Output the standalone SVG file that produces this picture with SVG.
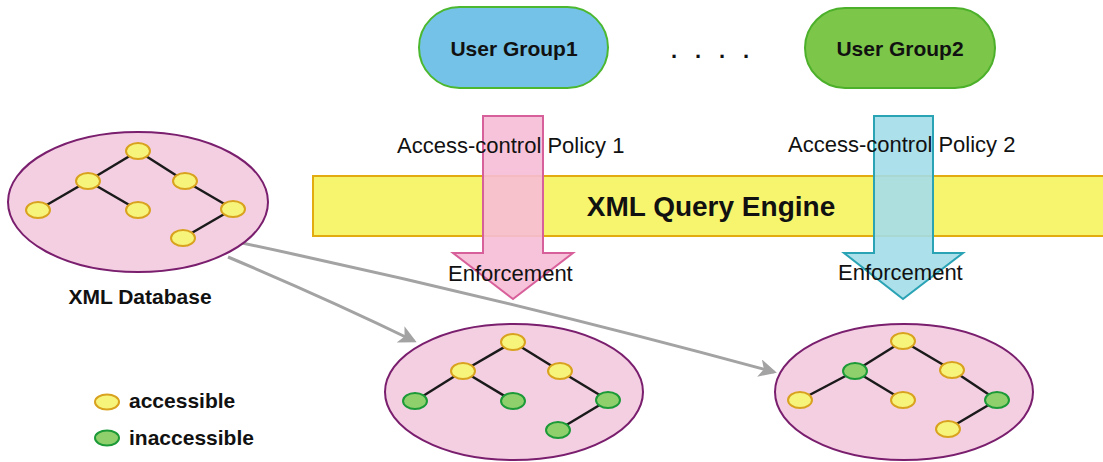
<svg xmlns="http://www.w3.org/2000/svg" width="1103" height="462" viewBox="0 0 1103 462">
  <style>
    .bold { font-family: "Liberation Sans", Arial, sans-serif; font-weight: bold; fill: #111; }
    .reg { font-family: "Liberation Sans", Arial, sans-serif; fill: #111; }
    .db { fill: #f4cfe2; stroke: #7a1e6e; stroke-width: 2; }
    .edge { stroke: #1a1a1a; stroke-width: 2.5; }
    .acc { fill: #f7f47c; stroke: #d9a21e; stroke-width: 2; }
    .inacc { fill: #8fd06c; stroke: #1c9a38; stroke-width: 2; }
    .link { fill: none; stroke: #a3a3a3; stroke-width: 3; }
  </style>
  <defs>
    <marker id="gray-head" viewBox="0 0 12 12" refX="10" refY="6" markerWidth="6" markerHeight="6" orient="auto" markerUnits="strokeWidth">
      <path d="M0,0 L12,6 L0,12 L3,6 Z" fill="#a3a3a3"/>
    </marker>
  </defs>

  <rect width="1103" height="462" fill="#ffffff"/>

  <!-- Query engine band -->
  <g id="engine">
    <rect x="313" y="176" width="792" height="60" fill="#f7f56e" stroke="#e2ac10" stroke-width="2"/>
    <text class="bold" x="711" y="216" font-size="28" text-anchor="middle">XML Query Engine</text>
  </g>

  <!-- User groups -->
  <g id="group1">
    <rect x="419" y="7" width="189" height="81" rx="40.5" fill="#74c2e8" stroke="#4cb830" stroke-width="2"/>
    <text class="bold" x="514" y="56" font-size="21" text-anchor="middle">User Group1</text>
  </g>
  <g id="ellipsis">
    <text class="bold" font-size="22" x="671 695 719 743" y="58">....</text>
  </g>
  <g id="group2">
    <rect x="805" y="8" width="190" height="80" rx="40" fill="#7cc64a" stroke="#4cb02a" stroke-width="2"/>
    <text class="bold" x="900" y="56" font-size="21" text-anchor="middle">User Group2</text>
  </g>

  <!-- Policy enforcement arrows -->
  <g id="policy1">
    <path d="M483,116 L543,116 L543,253 L573,253 L513,299 L453,253 L483,253 Z" fill="#f6bcd6" fill-opacity="0.9" stroke="#d8609a" stroke-width="2"/>
    <text class="reg" x="397" y="153" font-size="22">Access-control Policy 1</text>
    <text class="reg" x="448" y="281" font-size="22">Enforcement</text>
  </g>
  <g id="policy2">
    <path d="M874,116 L933,116 L933,253 L963,253 L903,299 L844,253 L874,253 Z" fill="#a3dde9" fill-opacity="0.9" stroke="#2aa3b5" stroke-width="2"/>
    <text class="reg" x="788" y="152" font-size="22">Access-control Policy 2</text>
    <text class="reg" x="838" y="280" font-size="22">Enforcement</text>
  </g>

  <!-- Connectors from the database to the filtered views -->
  <g id="connectors">
    <path class="link" d="M242,243 Q510,300 774,372" marker-end="url(#gray-head)"/>
    <path class="link" d="M228,257 Q330,300 414,341" marker-end="url(#gray-head)"/>
  </g>

  <!-- Source database -->
  <g id="xml-database">
    <ellipse class="db" cx="138" cy="202" rx="130" ry="70"/>
    <line class="edge" x1="138" y1="151" x2="88" y2="181"/>
    <line class="edge" x1="138" y1="151" x2="185" y2="181"/>
    <line class="edge" x1="88" y1="181" x2="38" y2="210"/>
    <line class="edge" x1="88" y1="181" x2="138" y2="210"/>
    <line class="edge" x1="185" y1="181" x2="233" y2="209"/>
    <line class="edge" x1="233" y1="209" x2="183" y2="238"/>
    <ellipse class="acc" cx="138" cy="151" rx="12" ry="8"/>
    <ellipse class="acc" cx="88" cy="181" rx="12" ry="8"/>
    <ellipse class="acc" cx="185" cy="181" rx="12" ry="8"/>
    <ellipse class="acc" cx="38" cy="210" rx="12" ry="8"/>
    <ellipse class="acc" cx="138" cy="210" rx="12" ry="8"/>
    <ellipse class="acc" cx="233" cy="209" rx="12" ry="8"/>
    <ellipse class="acc" cx="183" cy="238" rx="12" ry="8"/>
    <text class="bold" x="140" y="304" font-size="21" text-anchor="middle">XML Database</text>
  </g>

  <!-- View for user group 1 -->
  <g id="view1">
    <ellipse class="db" cx="514" cy="392" rx="129" ry="68"/>
    <line class="edge" x1="513" y1="342" x2="463" y2="371"/>
    <line class="edge" x1="513" y1="342" x2="560" y2="371"/>
    <line class="edge" x1="463" y1="371" x2="415" y2="401"/>
    <line class="edge" x1="463" y1="371" x2="513" y2="401"/>
    <line class="edge" x1="560" y1="371" x2="608" y2="400"/>
    <line class="edge" x1="608" y1="400" x2="558" y2="430"/>
    <ellipse class="acc" cx="513" cy="342" rx="12" ry="8"/>
    <ellipse class="acc" cx="463" cy="371" rx="12" ry="8"/>
    <ellipse class="acc" cx="560" cy="371" rx="12" ry="8"/>
    <ellipse class="inacc" cx="415" cy="401" rx="12" ry="8"/>
    <ellipse class="inacc" cx="513" cy="401" rx="12" ry="8"/>
    <ellipse class="inacc" cx="608" cy="400" rx="12" ry="8"/>
    <ellipse class="inacc" cx="558" cy="430" rx="12" ry="8"/>
  </g>

  <!-- View for user group 2 -->
  <g id="view2">
    <ellipse class="db" cx="904" cy="392" rx="129" ry="68"/>
    <line class="edge" x1="903" y1="341" x2="855" y2="371"/>
    <line class="edge" x1="903" y1="341" x2="952" y2="370"/>
    <line class="edge" x1="855" y1="371" x2="800" y2="400"/>
    <line class="edge" x1="855" y1="371" x2="903" y2="400"/>
    <line class="edge" x1="952" y1="370" x2="997" y2="400"/>
    <line class="edge" x1="997" y1="400" x2="948" y2="429"/>
    <ellipse class="acc" cx="903" cy="341" rx="12" ry="8"/>
    <ellipse class="inacc" cx="855" cy="371" rx="12" ry="8"/>
    <ellipse class="acc" cx="952" cy="370" rx="12" ry="8"/>
    <ellipse class="acc" cx="800" cy="400" rx="12" ry="8"/>
    <ellipse class="acc" cx="903" cy="400" rx="12" ry="8"/>
    <ellipse class="inacc" cx="997" cy="400" rx="12" ry="8"/>
    <ellipse class="acc" cx="948" cy="429" rx="12" ry="8"/>
  </g>

  <!-- Legend -->
  <g id="legend">
    <ellipse class="acc" cx="107" cy="402" rx="12" ry="7.5"/>
    <text class="bold" x="129" y="408" font-size="21">accessible</text>
    <ellipse class="inacc" cx="107" cy="438" rx="12" ry="7.5"/>
    <text class="bold" x="129" y="445" font-size="21">inaccessible</text>
  </g>
</svg>
